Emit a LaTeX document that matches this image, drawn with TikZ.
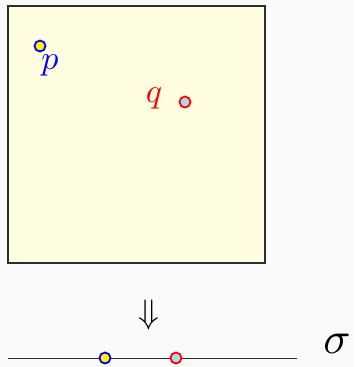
\documentclass[tikz,border=0pt]{standalone}
\usepackage{graphicx}
\definecolor{frame}{RGB}{35,50,50}
\definecolor{linec}{RGB}{40,50,50}
\definecolor{sqfill}{RGB}{255,253,224}
\definecolor{bg}{RGB}{250,250,250}
\definecolor{qfill}{RGB}{173,216,230}
\begin{document}
\begin{tikzpicture}[x=1pt,y=-1pt,
  dotp/.style={circle,draw=blue,fill=yellow,line width=1.8pt,minimum size=11pt,inner sep=0pt},
  dotq/.style={circle,draw=red,fill=qfill,line width=1.8pt,minimum size=11pt,inner sep=0pt},
  lbl/.style={inner sep=0pt}]
\fill[bg] (0,0) rectangle (354,367);
\useasboundingbox (0,0) rectangle (354,367);
\node[draw=frame,line width=2.8pt,fill=sqfill,minimum width=257pt,minimum height=257pt,inner sep=0pt] (sq) at (136.5,134.5) {};
\node[dotp] (p) at (40,46) {};
\node[lbl,text=blue] (pl) at (50,65) {\scalebox{3.4}{$p$}};
\node[dotq] (q) at (185,102) {};
\node[lbl,text=red] (ql) at (154,98) {\scalebox{3.4}{$q$}};
\node[lbl] (arr) at (149,315) {\scalebox{3.4}{$\Downarrow$}};
\coordinate (l0) at (8,358);
\coordinate (l1) at (297,358);
\draw[line width=1pt,linec] (l0) -- (l1);
\node[dotp] (p2) at (105,358) {};
\node[dotq] (q2) at (176,358) {};
\node[lbl] (sig) at (337,344) {\scalebox{4.5}{$\sigma$}};
\end{tikzpicture}
\end{document}
